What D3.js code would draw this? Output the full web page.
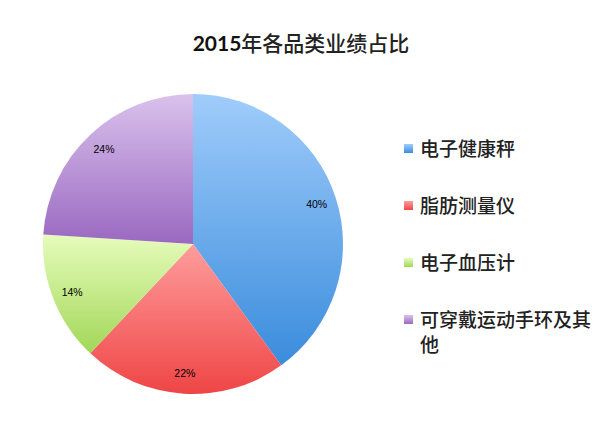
<!DOCTYPE html>
<html>
<head>
<meta charset="utf-8">
<script src="https://cdn.jsdelivr.net/npm/d3@7"></script>
<style>
  body { margin: 0; background: #fff; }
  svg { display: block; }
</style>
</head>
<body>
<div id="chart"></div>
<script>
// data
var categories = ["电子健康秤", "脂肪测量仪", "电子血压计", "可穿戴运动手环及其他"];
var shares = [40, 22, 14, 24];
// legend lines (last one wraps in the original)
var legendLines = [["电子健康秤"], ["脂肪测量仪"], ["电子血压计"], ["可穿戴运动手环及其", "他"]];
// gradient stops per slice: top, bottom
var topColors = ["#a0ccfb", "#ff9d9d", "#e6fcbb", "#dac2ec"];
var bottomColors = ["#3a8cdc", "#ef4545", "#a2d758", "#9a68c1"];

var W = 615, H = 434;
var cx = 193, cy = 244, R = 150;

var svg = d3.select("#chart").append("svg")
    .attr("width", W)
    .attr("height", H);

var defs = svg.append("defs");
categories.forEach(function(c, i){
    var g = defs.append("linearGradient")
        .attr("id", "grad" + i)
        .attr("x1", 0).attr("y1", 0)
        .attr("x2", 0).attr("y2", 1);
    g.append("stop").attr("offset", "0%").attr("stop-color", topColors[i]);
    g.append("stop").attr("offset", "100%").attr("stop-color", bottomColors[i]);
});

// title
var title = svg.append("text")
    .attr("x", 301)
    .attr("y", 51)
    .attr("text-anchor", "middle")
    .attr("fill", "#111");
title.append("tspan")
    .attr("font-family", "Lato, 'Liberation Sans', sans-serif")
    .attr("font-weight", "bold")
    .attr("font-size", "21px")
    .text("2015");
title.append("tspan")
    .attr("font-family", "'Noto Sans CJK SC', sans-serif")
    .attr("font-weight", 500)
    .attr("font-size", "21px")
    .attr("fill", "#222")
    .text("年各品类业绩占比");

// pie
var pie = d3.pie().sort(null).value(function(d){ return d; });
var arcs = pie(shares);
var arc = d3.arc().innerRadius(0).outerRadius(R);
var labelArc = d3.arc().innerRadius(130).outerRadius(130);

var g = svg.append("g").attr("transform", "translate(" + cx + "," + cy + ")");

g.selectAll("path")
    .data(arcs)
    .enter()
    .append("path")
    .attr("d", arc)
    .attr("fill", function(d, i){ return "url(#grad" + i + ")"; });

g.selectAll("text.lbl")
    .data(arcs)
    .enter()
    .append("text")
    .attr("class", "lbl")
    .attr("transform", function(d){ return "translate(" + labelArc.centroid(d) + ")"; })
    .attr("text-anchor", "middle")
    .attr("dy", "0.35em")
    .attr("font-family", "'Liberation Sans', Arial, sans-serif")
    .attr("font-size", "10.5px")
    .attr("fill", "#000")
    .text(function(d){ return d.data + "%"; });

// legend
var rowY = d3.scalePoint().domain(categories).range([149, 320]);

var leg = svg.selectAll("g.leg")
    .data(categories)
    .enter()
    .append("g")
    .attr("class", "leg")
    .attr("transform", function(d){ return "translate(404," + rowY(d) + ")"; });

leg.append("rect")
    .attr("x", 0)
    .attr("y", -5)
    .attr("width", 9)
    .attr("height", 9)
    .attr("fill", function(d, i){ return "url(#grad" + i + ")"; });

leg.append("text")
    .attr("x", 16)
    .attr("y", 0)
    .attr("font-family", "'Noto Sans CJK SC', sans-serif")
    .attr("font-weight", 500)
    .attr("font-size", "19px")
    .attr("fill", "#222")
    .each(function(d, i){
        var t = d3.select(this);
        legendLines[i].forEach(function(line, k){
            t.append("tspan")
                .attr("x", 16)
                .attr("dy", k === 0 ? "0.35em" : "25px")
                .text(line);
        });
    });
</script>
</body>
</html>
